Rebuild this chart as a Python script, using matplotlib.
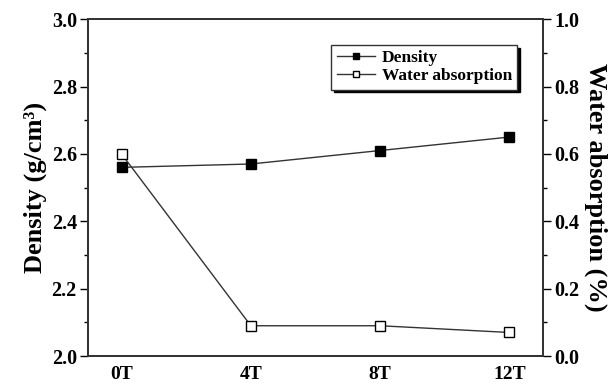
import matplotlib
matplotlib.use("Agg")
import matplotlib.pyplot as plt
import numpy as np

# values
categories = ["0T", "4T", "8T", "12T"]
density = [2.56, 2.57, 2.61, 2.65]
water_absorption = [0.60, 0.09, 0.09, 0.07]

plt.rcParams["font.family"] = ["Liberation Serif", "DejaVu Serif"]
plt.rcParams["font.weight"] = "bold"

LINE = "#333333"

fig = plt.figure(figsize=(6.15, 3.9), dpi=100)
ax = fig.add_axes([0.143, 0.087, 0.740, 0.864])
ax2 = ax.twinx()

x = np.arange(len(categories))
h1, = ax.plot(x, density, color=LINE, lw=1.0, marker="s", ms=6.5,
              mfc="black", mec="black", label="Density")
h2, = ax2.plot(x, water_absorption, color=LINE, lw=1.0, marker="s", ms=6.5,
               mfc="white", mec="black", mew=1.0, label="Water absorption")

ax.set_xlim(-0.26, 3.26)
ax.set_ylim(2.0, 3.0)
ax2.set_ylim(0.0, 1.0)

ax.set_xticks(x)
ax.set_xticklabels(categories, fontsize=14, fontweight="bold")
ax.tick_params(axis="x", length=0, pad=7)

left_major = np.arange(2.0, 3.01, 0.2)
right_major = np.arange(0.0, 1.01, 0.2)

ax.set_yticks(left_major)
ax.set_yticks(np.arange(2.1, 3.0, 0.2), minor=True)
ax.set_yticklabels([f"{v:.1f}" for v in left_major], fontsize=14.5, fontweight="bold")
ax.tick_params(axis="y", which="major", direction="out", length=6, width=1.0, pad=2)
ax.tick_params(axis="y", which="minor", direction="out", length=3, width=1.0)

ax2.set_yticks(right_major)
ax2.set_yticks(np.arange(0.1, 1.0, 0.2), minor=True)
ax2.set_yticklabels([f"{v:.1f}" for v in right_major], fontsize=14.5, fontweight="bold")
ax2.tick_params(axis="y", which="major", direction="out", length=6, width=1.0, pad=2)
ax2.tick_params(axis="y", which="minor", direction="out", length=3, width=1.0)

for a in (ax, ax2):
    for spine in a.spines.values():
        spine.set_color(LINE)
        spine.set_linewidth(1.3)

ax.set_ylabel("Density (g/cm\u00b3)", fontsize=19, fontweight="bold", labelpad=3)
ax2.set_ylabel("Water absorption (%)", fontsize=19, fontweight="bold",
               rotation=270, labelpad=20)

leg = ax.legend([h1, h2], ["Density", "Water absorption"], loc="upper right",
                bbox_to_anchor=(0.943, 0.923), borderaxespad=0.0, fontsize=12.5,
                frameon=True, fancybox=False,
                shadow={"color": "black", "alpha": 1.0},
                handlelength=2.2, handletextpad=0.4, borderpad=0.3,
                labelspacing=0.1, markerscale=0.7)
leg.get_frame().set_edgecolor(LINE)
leg.get_frame().set_linewidth(1.0)
for t in leg.get_texts():
    t.set_fontweight("bold")

fig.savefig("out.png", dpi=100)
